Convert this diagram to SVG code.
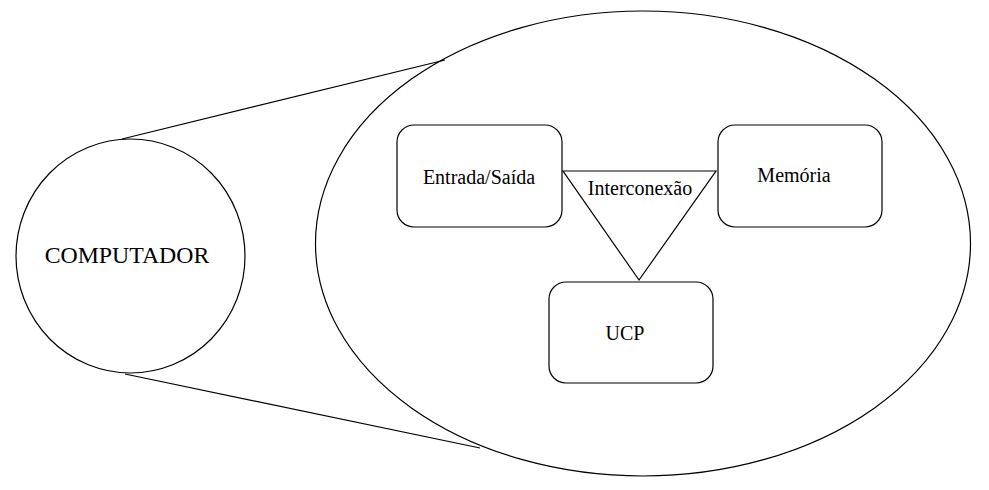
<svg xmlns="http://www.w3.org/2000/svg" width="989" height="490" viewBox="0 0 989 490">
<style>
.s{fill:none;stroke:#000;stroke-width:1.2}
.t{font-family:"Liberation Serif","Times New Roman",serif;fill:#000;text-anchor:middle}
.b{font-size:20px}
</style>
<rect width="989" height="490" fill="#fff"/>
<g id="connectors">
<line class="s" x1="122" y1="139" x2="445" y2="60"/>
<line class="s" x1="125" y1="374" x2="480" y2="448"/>
</g>
<g id="computador">
<ellipse class="s" cx="130.5" cy="256" rx="114.5" ry="117"/>
<text class="t" x="127" y="263" font-size="23.8">COMPUTADOR</text>
</g>
<g id="sistema">
<ellipse class="s" cx="643" cy="243.5" rx="327.5" ry="232.5"/>
</g>
<g id="interconexao">
<polygon class="s" points="563,171 716,171 639,280"/>
<text class="t b" x="640" y="195">Interconexão</text>
</g>
<g id="entrada-saida">
<rect class="s" x="397" y="125" width="165" height="102" rx="17"/>
<text class="t b" x="479" y="184">Entrada/Saída</text>
</g>
<g id="memoria">
<rect class="s" x="718" y="125" width="164" height="102" rx="17"/>
<text class="t b" x="794" y="182">Memória</text>
</g>
<g id="ucp">
<rect class="s" x="549" y="282" width="164" height="101" rx="17"/>
<text class="t b" x="625" y="340">UCP</text>
</g>
</svg>
